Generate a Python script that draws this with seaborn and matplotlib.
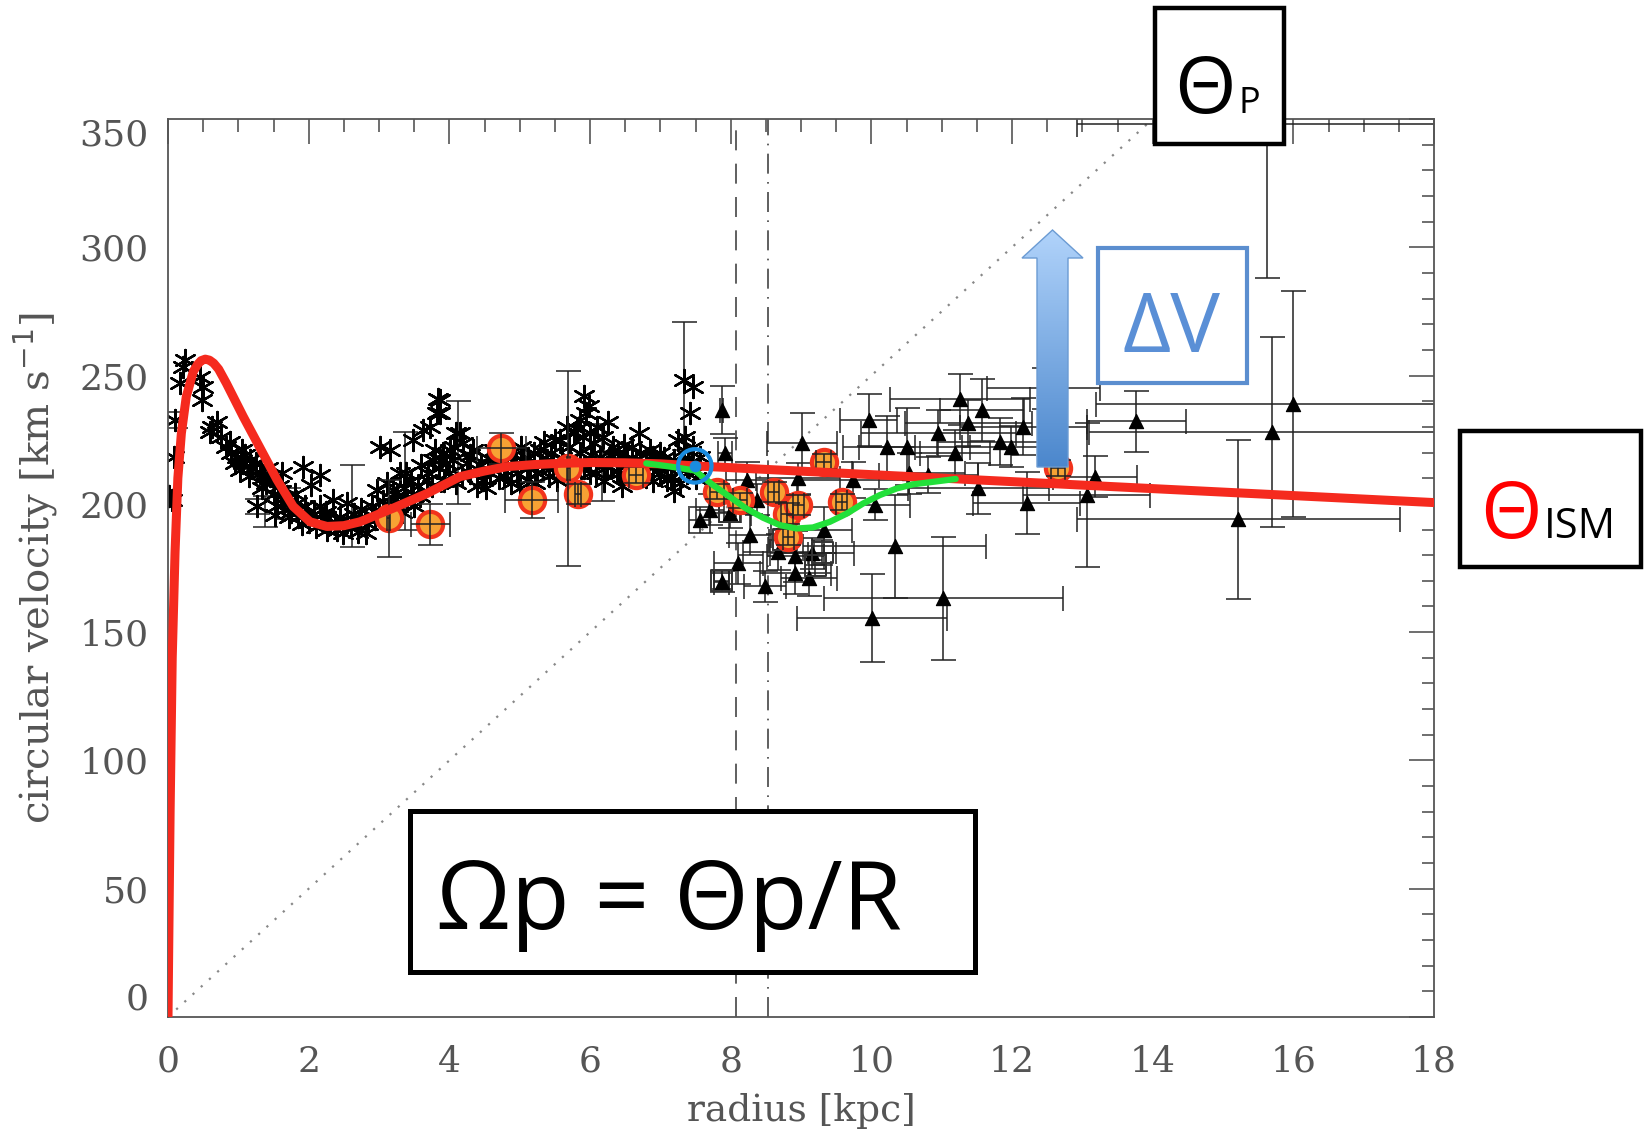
import numpy as np
import matplotlib
matplotlib.use('Agg')
import matplotlib.pyplot as plt
import seaborn as sns
from matplotlib.patches import Rectangle, Polygon
from matplotlib.ticker import MultipleLocator
from matplotlib.colors import LinearSegmentedColormap

# rotation curve models (red = ISM curve, green = perturbed part)
RED_R = [0, 0.03, 0.06, 0.1, 0.14, 0.19, 0.26, 0.36, 0.42, 0.47, 0.53, 0.59, 0.65, 0.72, 0.83, 1.07, 1.31, 1.55,
         1.78, 2.02, 2.26, 2.5, 2.73, 3.2, 3.68, 4.15, 4.5, 4.82, 5.2, 5.58, 6.0, 6.5, 7.0, 7.49, 18.0]
RED_V = [0, 80, 140, 181, 210, 227.5, 241.8, 251.6, 254.3, 255.8, 256.4, 256.0, 254.8, 252.5, 247, 234, 221.7, 209.4,
         199, 193, 191.2, 191.5, 193, 198.3, 204, 210.6, 212.8, 214.5, 215.3, 215.8, 216.1, 216, 215.6, 214.8, 200.5]
GREEN_R = [6.8, 7.2, 7.49, 7.75, 7.99, 8.22, 8.46, 8.7, 8.94, 9.17, 9.41, 9.65, 9.88, 10.12, 10.36, 10.59, 10.97, 11.2]
GREEN_V = [215.8, 214.3, 213.0, 207.3, 202.7, 198.2, 194.6, 191.7, 190.4, 190.8, 193, 196.2, 200.1, 203.4, 206, 207.6, 208.9, 209.7]
PAT_R = [0, 14]
PAT_V = [0, 350]
SUN_R = [7.49]
SUN_V = [214.8]

# terminal velocity points (asterisks)
AST_R = [0.24, 0.22, 0.17, 0.10, 0.08, 0.05, 0.02, 0.46, 0.50, 0.48, 0.62, 0.60, 0.83, 0.98, 1.07, 1.02, 1.17, 1.31,
         1.40, 1.50, 1.26, 1.55, 1.52, 1.69, 1.92, 2.16, 2.04, 1.83, 1.97, 2.16, 2.35, 2.26, 2.49, 2.54, 2.73, 2.82,
         2.97, 3.11, 3.01, 3.16, 3.20, 3.30, 3.39, 3.49, 3.63, 3.72, 3.82, 3.84, 3.49, 3.68, 3.77, 3.91, 4.06, 4.10,
         4.00, 0.90, 1.10, 1.20, 1.35, 1.45, 1.60, 1.65, 1.75, 1.85, 1.90, 2.00, 2.10, 2.20, 2.30, 2.40, 2.45, 2.60,
         2.65, 2.80, 2.90, 3.00, 3.05, 3.15, 3.25, 3.35, 3.40, 3.55, 3.60, 3.70, 3.85, 3.95,
         3.87, 3.87, 4.15, 4.20, 4.01, 3.87, 4.29, 4.39, 4.48, 4.58, 4.72, 4.82, 4.96, 5.05, 5.20, 5.29, 5.39,
         5.48, 5.58, 5.67, 5.77, 5.86, 5.95, 6.00, 6.05, 6.14, 6.24, 6.33, 6.43, 6.52, 6.69, 6.71, 6.90, 6.99, 7.09,
         7.19, 7.33, 7.47, 7.56, 7.38, 7.33, 7.47, 7.42, 7.28, 6.80, 6.61, 4.34, 4.63, 5.15, 5.53, 5.86, 5.10, 6.00,
         4.10, 4.25, 4.45, 4.55, 4.70, 4.90, 5.00, 5.25, 5.35, 5.45, 5.60, 5.70, 5.75, 5.90, 6.10, 6.20, 6.30, 6.40,
         6.60, 6.80, 7.00, 7.10, 7.25, 7.40, 7.50, 7.20, 6.90, 6.45,
         0.70, 0.75, 0.88, 0.95, 1.05, 1.15, 1.25, 1.33, 1.42, 1.58, 1.62, 1.72, 1.80, 1.95, 2.08, 2.25, 2.38, 2.55,
         2.70, 2.75, 2.85, 2.95, 3.08, 3.22, 3.32, 3.45, 3.50, 3.58, 3.75, 3.80, 3.92, 4.05, 4.18, 4.30, 4.40, 4.52,
         4.62, 4.68, 4.78, 4.88, 4.95, 5.02, 5.12, 5.22, 5.32, 5.42, 5.50, 5.62, 5.72, 5.82, 5.92, 6.02, 6.08, 6.18,
         6.28, 6.38, 6.48, 6.55, 6.65, 6.75, 6.85, 6.95, 7.05, 7.15, 7.30, 7.45, 7.52, 7.35, 6.25, 5.98, 5.92]
AST_V = [256, 253.5, 247, 232.7, 218.4, 201.6, 203, 249.6, 245.7, 240.5, 230, 228, 222.3, 218.4, 215.8, 213.2, 217, 212,
         208, 204, 199, 199, 195.7, 202.9, 214.5, 211.3, 207.4, 200.3, 196.4, 199, 201.6, 189.9, 188.6, 200.3, 193.8, 188.6,
         205.5, 208, 222.3, 221, 205.5, 212, 212, 225, 228.8, 230, 235.3, 241, 204, 209.4, 217, 219.7, 222.3, 227.5,
         212, 220, 219, 214, 210, 211, 205, 200, 197, 195, 192, 193, 191, 194, 192, 190, 195, 191,
         196, 195, 199, 196, 201, 199, 203, 206, 201, 207, 215, 212, 214, 216,
         240.5, 235.3, 227.5, 223.6, 221, 217, 212, 206.8, 209.4, 212, 217, 214.5, 212, 217, 219.7, 221, 217,
         214.5, 225, 230, 227.5, 232.7, 235.3, 227.5, 223.6, 218.4, 214.5, 222.3, 212, 217, 227.5, 219.7, 218.4, 212, 209.4,
         217, 221, 222.3, 218.4, 212, 248.3, 245.7, 235.3, 208, 210.6, 214.5, 221, 221, 214.5, 209.4, 219.7, 209.4, 212,
         208, 216, 215, 218, 210, 219, 206, 212, 224, 220, 218, 222, 213, 226, 230, 209, 216, 220,
         222, 216, 220, 214, 225, 218, 210, 205, 209, 207,
         232, 226, 224, 216, 221, 211, 216, 206, 214, 207, 212, 195, 204, 199, 196, 197, 193, 193,
         189, 198, 192, 194, 195, 200, 197, 209, 199, 203, 207, 221, 209, 217, 211, 219, 212, 206,
         215, 220, 211, 208, 216, 222, 218, 208, 215, 211, 225, 212, 218, 229, 214, 219, 212, 226,
         219, 213, 223, 211, 217, 213, 221, 215, 218, 211, 215, 216, 213, 226, 232, 238, 242]
AST_ER_R = [2.61, 1.38, 1.71, 4.13, 6.17, 7.33, 0.10, 1.26, 3.37]
AST_ER_V = [199, 197, 200, 220, 216, 246, 232.7, 199, 209]
AST_ER_DV = [16, 6, 6, 20, 15, 25, 3, 3, 19]

# maser points (orange circles)
OR_R = [3.14, 3.73, 4.74, 5.17, 5.69, 5.83, 6.66, 7.80, 8.13, 8.61, 8.80, 8.96, 8.82, 9.32, 9.58, 12.65]
OR_V = [194.4, 192.1, 221.7, 201.6, 213.9, 203.8, 211.3, 204.7, 201.4, 204.7, 196.2, 199.5, 187.1, 216.4, 200.8, 214]
OR_DR = [0.02, 0.28, 0.35, 0.38, 0.02, 0.04, 0.1, 0.1, 0.1, 0.08, 0.08, 0.08, 0.08, 0.1, 0.08, 0.1]
OR_DV = [15, 8, 6, 7, 38, 4, 3, 3, 3, 4, 4, 4, 3, 3, 3, 3]

# outer disk tracers (triangles)
TRI_R = [7.56, 7.70, 7.87, 7.92, 7.87, 7.99, 8.11, 8.23, 8.27, 8.37, 8.49, 8.68, 8.92, 8.92, 9.11, 9.16,
         9.01, 8.96, 9.33, 9.74, 9.96, 10.05, 10.22, 10.50, 10.33, 11.02, 10.01, 10.53, 10.81, 10.95, 11.26,
         11.57, 11.38, 11.19, 11.52, 11.83, 11.99, 12.16, 12.21, 13.18, 13.06, 13.77, 15.22, 15.70, 16.00,
         15.62, 12.45]
TRI_V = [193.8, 197.7, 236.6, 219.7, 169.7, 196.4, 176.9, 209.4, 187.9, 201.6, 167.8, 181.4, 179.5, 173.0, 171.0, 180.8,
         223.6, 210.0, 189.9, 209.4, 232.7, 199.6, 222.3, 222.3, 183.4, 163.2, 155.5, 212.0, 211.3, 227.5, 240.8,
         236.6, 231.4, 219.7, 206.1, 224.3, 222.3, 230.1, 200.3, 210.6, 203.5, 232.1, 194.0, 228.0, 238.8,
         348.0, 245.0]
TRI_DR = [0.15, 0.2, 0.02, 0.1, 0.1, 0.3, 0.35, 0.3, 0.3, 0.4, 0.3, 0.5, 0.4, 0.5, 0.4, 0.6,
          0.5, 0.6, 0.4, 0.8, 0.4, 0.5, 0.4, 0.9, 1.3, 1.7, 1.07, 0.8, 0.7, 1.1, 1.0,
          0.6, 0.9, 0.5, 1.0, 0.9, 0.7, 0.9, 0.76, 0.6, 0.9, 0.7, 2.3, 2.6, 2.8,
          2.7, 0.8]
TRI_DV = [5, 6, 9.5, 6, 4, 6, 8, 7, 8, 6, 6, 7, 10, 8, 7, 6,
          12, 6, 9, 7, 10, 6, 12, 15, 20, 24, 17, 8, 7, 9, 10,
          12, 9, 9, 10, 9, 8, 11, 12, 8, 28, 12, 31, 37, 44,
          60, 8]

# open squares
SQ_R = [7.87, 7.99, 9.30, 8.75, 9.20]
SQ_V = [170, 197, 181, 186, 176]
SQ_DR = [0.1, 0.15, 0.2, 0.2, 0.15]
SQ_DV = [3, 4, 5, 4, 4]

R_SUN_A = 8.08
R_SUN_B = 8.53

sns.set_style('white')
plt.rcParams['font.family'] = ['DejaVu Serif']

W, H = 1647, 1134
fig = plt.figure(figsize=(W / 100, H / 100), dpi=100)
ax = fig.add_axes([168 / W, 1 - 1017 / H, (1434 - 168) / W, (1017 - 119) / H])

fc = '#555555'
# reference lines
sns.lineplot(x=PAT_R, y=PAT_V, ax=ax, color='#888888', lw=1.6, linestyle=(0, (1, 4)), zorder=1)
ax.axvline(R_SUN_A, color='#444444', lw=1.2, linestyle=(0, (12, 8)), zorder=1)
ax.axvline(R_SUN_B, color='#444444', lw=1.2, linestyle=(0, (12, 5, 1, 5)), zorder=1)

# asterisks
ax.errorbar(AST_ER_R, AST_ER_V, yerr=AST_ER_DV, fmt='none', ecolor='#222222', elinewidth=1.1,
            capsize=9, capthick=1.1, zorder=2)
sns.scatterplot(x=AST_R, y=AST_V, ax=ax, marker=(6, 2, 0), s=230, color='black', linewidth=1.7, zorder=2)

# triangles + squares
ax.errorbar(TRI_R, TRI_V, xerr=TRI_DR, yerr=TRI_DV, fmt='none', ecolor='#222222', elinewidth=1.1,
            capsize=9, capthick=1.1, zorder=2)
sns.scatterplot(x=TRI_R, y=TRI_V, ax=ax, marker='^', s=105, color='black', edgecolor='black', zorder=3)
ax.errorbar(SQ_R, SQ_V, xerr=SQ_DR, yerr=SQ_DV, fmt='none', ecolor='#222222', elinewidth=1.1,
            capsize=8, capthick=1.1, zorder=2)
sns.scatterplot(x=SQ_R, y=SQ_V, ax=ax, marker='s', s=230, facecolor='none', edgecolor='#333333',
                linewidth=1.4, zorder=3)

# masers
sns.scatterplot(x=OR_R, y=OR_V, ax=ax, marker='o', s=330, color='#f7a234', edgecolor='#f2331c',
                linewidth=3, zorder=4)
ax.errorbar(OR_R, OR_V, xerr=OR_DR, yerr=OR_DV, fmt='none', ecolor='#222222', elinewidth=1.1,
            capsize=9, capthick=1.1, zorder=5)

# model curves
sns.lineplot(x=RED_R, y=RED_V, ax=ax, color='#f52a1e', lw=6.5, sort=False, estimator=None, zorder=6)
sns.lineplot(x=GREEN_R, y=GREEN_V, ax=ax, color='#22e03a', lw=4.5, sort=False, estimator=None, zorder=7)
sns.scatterplot(x=SUN_R, y=SUN_V, ax=ax, marker='o', s=580, facecolor='none', edgecolor='#1a8ce0',
                linewidth=3, zorder=8)
sns.scatterplot(x=SUN_R, y=SUN_V, ax=ax, marker='o', s=60, color='#1a8ce0', edgecolor='#1a8ce0', zorder=8)

ax.set_xlim(0, 18)
ax.set_ylim(0, 350)
ax.xaxis.set_major_locator(MultipleLocator(2))
ax.xaxis.set_minor_locator(MultipleLocator(0.5))
ax.yaxis.set_major_locator(MultipleLocator(50))
ax.yaxis.set_minor_locator(MultipleLocator(10))
ax.tick_params(which='both', direction='in', top=True, right=True, color='#555555', width=1.2)
ax.tick_params(which='major', length=18)
ax.tick_params(which='minor', length=9)
ax.tick_params(axis='x', which='major', pad=20, labelsize=26, labelcolor=fc)
ax.tick_params(axis='y', which='major', pad=14, labelsize=26, labelcolor=fc)
for sp in ax.spines.values():
    sp.set_color('#555555')
    sp.set_linewidth(1.3)
ax.set_xlabel('radius [kpc]', fontsize=27, color=fc, labelpad=10)
ax.set_ylabel('circular velocity [km s$^{-1}$]', fontsize=29, color=fc, labelpad=14)

fig.canvas.draw()
for lab in ax.get_yticklabels():
    if lab.get_text() == '0':
        lab.set_verticalalignment('bottom')
    elif lab.get_text() == '350':
        lab.set_verticalalignment('top')

# slide annotations, in pixel coordinates
ov = fig.add_axes([0, 0, 1, 1], zorder=10)
ov.set_facecolor('none')
ov.set_xlim(0, W)
ov.set_ylim(H, 0)
ov.axis('off')
sans = ['Open Sans', 'DejaVu Sans']

# gradient arrow
verts = [(1037, 467), (1068, 467), (1068, 258), (1083, 258), (1052.5, 230), (1022, 258), (1037, 258)]
arrow = Polygon(verts, closed=True, facecolor='none', edgecolor='#6b9bd3', lw=1, zorder=12)
ov.add_patch(arrow)
cmap = LinearSegmentedColormap.from_list('arr', ['#b2d4fb', '#4a86cc'])
grad = np.linspace(0, 1, 256).reshape(-1, 1)
im = ov.imshow(grad, cmap=cmap, extent=(1018, 1087, 470, 228), aspect='auto', zorder=11)
im.set_clip_path(arrow)
ov.set_xlim(0, W)
ov.set_ylim(H, 0)

# boxes
ov.add_patch(Rectangle((1155, 8), 129, 136, facecolor='white', edgecolor='black', lw=3.2, zorder=13))
ov.text(1174, 113, 'Θ', fontsize=57, family=sans, color='black', va='baseline', zorder=14)
ov.text(1238, 113, 'P', fontsize=26, family=sans, color='black', va='baseline', zorder=14)

ov.add_patch(Rectangle((1098, 248), 149, 135, facecolor='white', edgecolor='#5b8ecf', lw=3, zorder=13))
ov.text(1171, 352, 'ΔV', fontsize=60, family=sans, color='#5a8fd6', ha='center', va='baseline', zorder=14)

ov.add_patch(Rectangle((1460, 431), 181, 136, facecolor='white', edgecolor='black', lw=3.2, zorder=13))
ov.text(1480, 538, 'Θ', fontsize=57, family=sans, color='#ff0000', va='baseline', zorder=14)
ov.text(1544, 538, 'ISM', fontsize=30, family=sans, color='black', va='baseline', zorder=14)

ov.add_patch(Rectangle((410, 811), 565, 161, facecolor='white', edgecolor='black', lw=3.6, zorder=13))
ov.text(436, 929, 'Ωp = Θp/R', fontsize=69, family=sans, color='black', va='baseline', zorder=14)

fig.savefig('out.png', dpi=100)
